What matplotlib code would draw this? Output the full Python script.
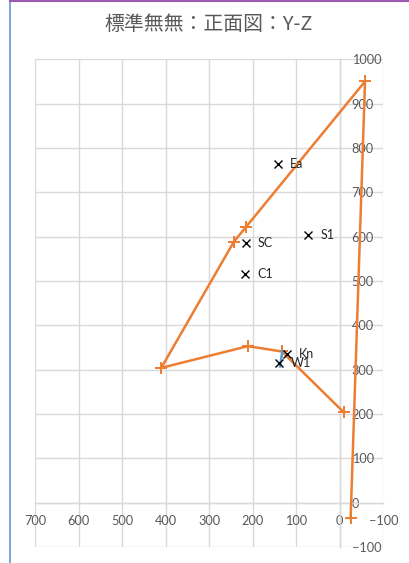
import matplotlib
matplotlib.use("Agg")
import matplotlib.pyplot as plt
from matplotlib.lines import Line2D
import numpy as np

# orange outline (Y, Z)
outline_y = [-25, -58, 216, 243, 410, 211, 133, -9]
outline_z = [-35, 950, 621, 589, 304, 353, 341, 204]

# short blue segment near Kn / W1
blue_y = [132, 137]
blue_z = [342, 307]

# labelled points
pt_names = ["Ea", "SC", "S1", "C1", "Kn", "W1"]
pt_y = [141, 215, 72, 217, 122, 139]
pt_z = [763, 585, 604, 515, 336, 315]

TITLE = "標準無無：正面図：Y-Z"
ORANGE = "#ED7D31"
BLUE = "#5B9BD5"
GRID = "#D9D9D9"
TXT = "#595959"

plt.rcParams["font.family"] = ["Lato", "DejaVu Sans"]

fig = plt.figure(figsize=(4.09, 5.63), dpi=100)
ax = fig.add_axes([35 / 409, 1 - 547 / 563, 348.3 / 409, 487.7 / 563])

ax.set_xlim(700, -100)
ax.set_ylim(-100, 1000)
ax.set_xticks(np.arange(-100, 701, 100))
ax.set_yticks(np.arange(-100, 1001, 100))
ax.grid(True, color=GRID, linewidth=1)
ax.set_axisbelow(True)

for s in ["top", "left"]:
    ax.spines[s].set_visible(False)
ax.spines["bottom"].set_position(("data", 0))
ax.spines["right"].set_position(("data", 0))
for s in ["bottom", "right"]:
    ax.spines[s].set_color(GRID)
    ax.spines[s].set_linewidth(1)
ax.yaxis.tick_right()
ax.tick_params(axis="x", length=0, pad=9.2, labelsize=9.2, labelcolor=TXT)
ax.tick_params(axis="y", length=0, pad=8.5, labelsize=9.2, labelcolor=TXT)
for lab in ax.get_yticklabels():
    lab.set_horizontalalignment("left")

ax.plot(outline_y, outline_z, color=ORANGE, linewidth=1.8, marker="+",
        markersize=8, markeredgewidth=1.4, zorder=3)
ax.plot(blue_y, blue_z, color=BLUE, linewidth=1.8, zorder=3)
ax.plot(pt_y, pt_z, linestyle="none", marker="x", color="black",
        markersize=6, markeredgewidth=1.0, zorder=4)
for name, y, z in zip(pt_names, pt_y, pt_z):
    ax.annotate(name, (y, z), xytext=(8.5, 0), textcoords="offset points",
                ha="left", va="center", fontsize=9, color="#262626", zorder=5)

fig.text(0.51, 1 - 25 / 563, TITLE, ha="center", va="center", fontsize=14.3,
         color=TXT, family=["Noto Sans CJK JP", "DejaVu Sans"])

# frame edges seen in the screenshot
fig.add_artist(Line2D([9.5 / 409, 9.5 / 409], [0, 1], color=BLUE, linewidth=1.2))
fig.add_artist(Line2D([9.5 / 409, 1], [1 - 1 / 563, 1 - 1 / 563], color="#9B59B6", linewidth=1.5))

fig.savefig("out.png", dpi=100)
